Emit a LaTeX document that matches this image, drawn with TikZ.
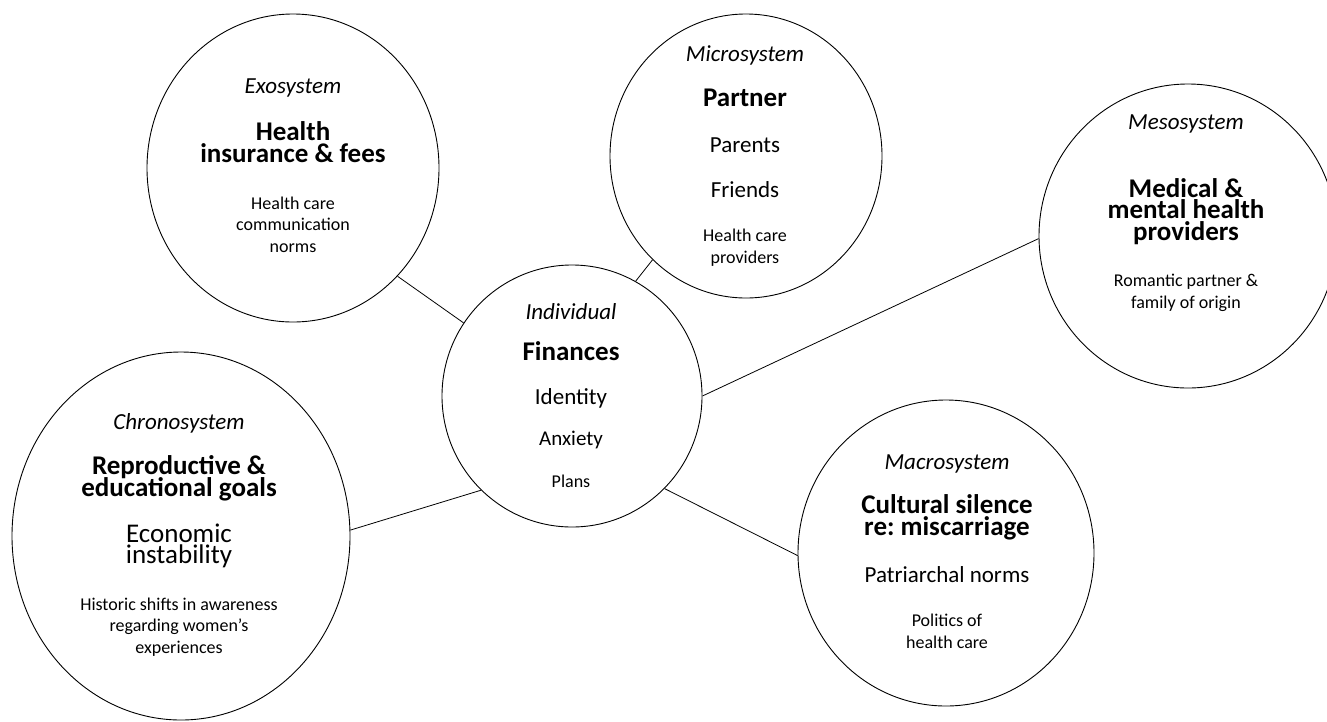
\documentclass[tikz,border=0pt]{standalone}
\usepackage{fontspec}
\setmainfont{Carlito}
\usetikzlibrary{shapes.geometric}
\frenchspacing
\newcommand\mytight{\lineskiplimit=-100pt\relax\lineskip=0pt\relax}
\tikzset{
  sys/.style={draw=black, line width=0.9pt, ellipse, inner sep=0pt},
  blk/.style={anchor=base, inner sep=0pt, align=center},
  lab/.style={blk, font={\fontsize{23}{23}\selectfont\itshape}},
  big/.style={blk, font={\fontsize{27}{21.5}\selectfont\bfseries\mytight}},
  bigreg/.style={blk, font={\fontsize{27}{21}\selectfont\mytight}},
  mid/.style={blk, font={\fontsize{23}{23}\selectfont}},
  midsm/.style={blk, font={\fontsize{21}{21}\selectfont}},
  sml/.style={blk, font={\fontsize{18}{21.5}\selectfont\mytight}},
  link/.style={draw=black, line width=0.8pt},
}
\begin{document}
\begin{tikzpicture}[x=1pt,y=-1pt]
\fill[white] (0,0) rectangle (1327,721);
\useasboundingbox (0,0) rectangle (1327,721);

% Exosystem
\node[sys, minimum width=292pt, minimum height=308pt] (exo) at (293,168) {};
\node[lab] (exoL) at (293,93) {Exosystem};
\node[big] (exoA) at (293,162) {Health\\insurance \& fees};
\node[sml] (exoB) at (293,252) {Health care\\communication\\norms};

% Microsystem
\node[sys, minimum width=272pt, minimum height=284pt] (mic) at (746,156) {};
\node[lab] (micL) at (745,61) {Microsystem};
\node[big] (micA) at (745,106) {Partner};
\node[mid] (micB) at (745,152) {Parents};
\node[mid] (micC) at (745,197) {Friends};
\node[sml] (micD) at (745,263) {Health care\\providers};

% Mesosystem
\node[sys, minimum width=298pt, minimum height=304pt] (mes) at (1188,236) {};
\node[lab] (mesL) at (1186,129) {Mesosystem};
\node[big] (mesA) at (1186,240) {Medical \&\\mental health\\providers};
\node[sml] (mesB) at (1186,308) {Romantic partner \&\\family of origin};

% Individual
\node[sys, minimum width=260pt, minimum height=262pt] (ind) at (572,396) {};
\node[lab] (indL) at (571,319) {Individual};
\node[big] (indA) at (571,360) {Finances};
\node[mid] (indB) at (571,404) {Identity};
\node[midsm] (indC) at (571,445) {Anxiety};
\node[sml] (indD) at (571,487) {Plans};

% Chronosystem
\node[sys, minimum width=338pt, minimum height=368pt] (chr) at (181,536) {};
\node[lab] (chrL) at (179,429) {Chronosystem};
\node[big] (chrA) at (179,496) {Reproductive \&\\educational goals};
\node[bigreg] (chrB) at (179,563) {Economic\\instability};
\node[sml] (chrC) at (179,653) {Historic shifts in awareness\\regarding women’s\\experiences};

% Macrosystem
\node[sys, minimum width=296pt, minimum height=306pt] (mac) at (946,553) {};
\node[lab] (macL) at (947,469) {Macrosystem};
\node[big] (macA) at (947,535) {Cultural silence\\re: miscarriage};
\node[mid] (macB) at (947,582) {Patriarchal norms};
\node[sml] (macC) at (947,648) {Politics of\\health care};

% Connectors
\draw[link] (exo.-46) -- (ind.146);
\draw[link] (mic.-132) -- (ind.61);
\draw[link] (mes.181) -- (ind.0);
\draw[link] (chr.2) -- (ind.-134);
\draw[link] (mac.181) -- (ind.-45);
\end{tikzpicture}
\end{document}
